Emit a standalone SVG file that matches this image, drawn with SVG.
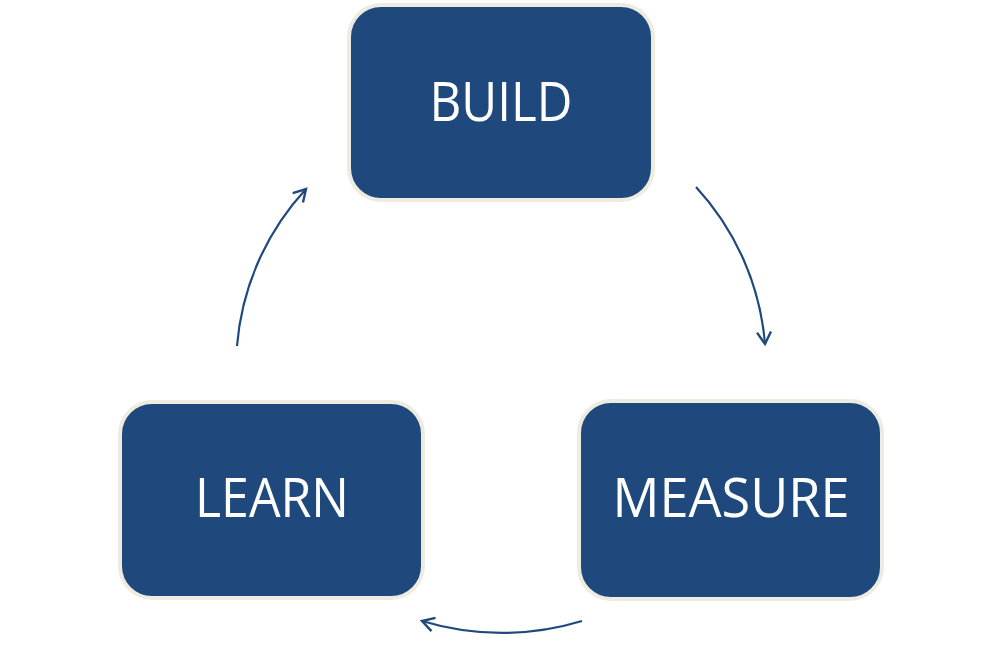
<svg xmlns="http://www.w3.org/2000/svg" width="1002" height="671" viewBox="0 0 1002 671">
<style>
.box{fill:#1F497D;stroke:#EEECE1;stroke-width:4}
.lbl{font-family:"Open Sans","Noto Sans",sans-serif;font-size:55px;fill:#FFFFFF;text-anchor:middle}
.arc{fill:none;stroke:#1F497D;stroke-width:2.2}
</style>
<defs>
<marker id="ah" markerUnits="userSpaceOnUse" markerWidth="20" markerHeight="20" viewBox="-14 -10 16 20" refX="0" refY="0" orient="auto">
<path d="M-12,-7 L0,0 L-12,7" fill="none" stroke="#1F497D" stroke-width="2.4"/>
</marker>
</defs>
<rect width="1002" height="671" fill="#FFFFFF"/>
<g id="build">
<rect class="box" x="349" y="5" width="304" height="195" rx="32"/>
<text class="lbl" x="501" y="121" textLength="143" lengthAdjust="spacingAndGlyphs">BUILD</text>
</g>
<g id="measure">
<rect class="box" x="579" y="401" width="303" height="198" rx="32"/>
<text class="lbl" x="731" y="517" textLength="237" lengthAdjust="spacingAndGlyphs">MEASURE</text>
</g>
<g id="learn">
<rect class="box" x="120" y="402" width="303" height="196" rx="32"/>
<text class="lbl" x="272" y="517" textLength="154" lengthAdjust="spacingAndGlyphs">LEARN</text>
</g>
<g id="connectors">
<path class="arc" d="M696,187 A264,264 0 0 1 765,344" marker-end="url(#ah)"/>
<path class="arc" d="M582,621 A275,275 0 0 1 422,621" marker-end="url(#ah)"/>
<path class="arc" d="M237,346 A262,262 0 0 1 306,189" marker-end="url(#ah)"/>
</g>
</svg>
